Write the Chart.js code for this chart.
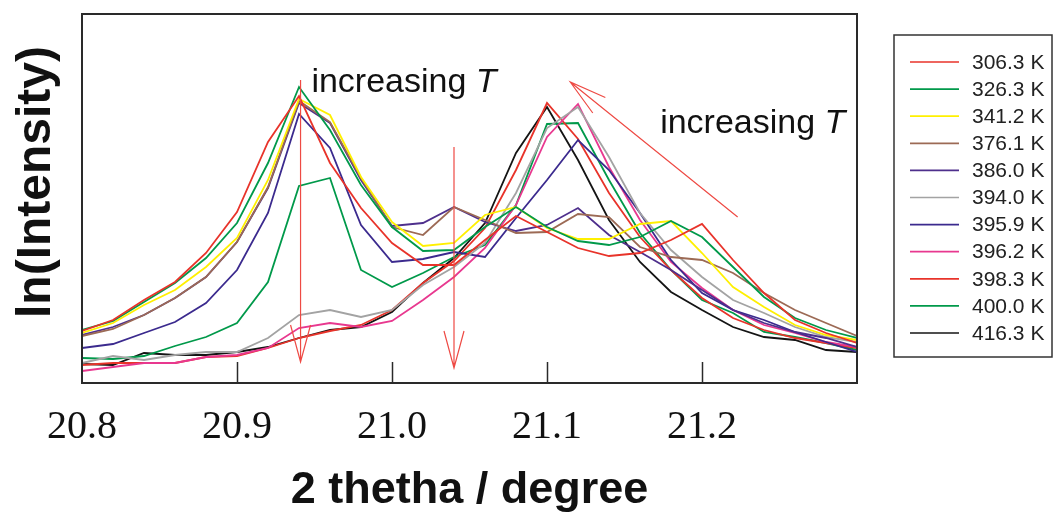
<!DOCTYPE html>
<html>
<head>
<meta charset="utf-8">
<script src="https://cdn.jsdelivr.net/npm/chart.js@4"></script>
<style>
  html, body { margin: 0; padding: 0; background: #fff; }
  #wrap { width: 1055px; height: 516px; }
</style>
</head>
<body>
<div id="wrap"><canvas id="chart"></canvas></div>
<script>
// 2 theta positions (degree)
const ANGLES = [20.80, 20.82, 20.84, 20.86, 20.88, 20.90, 20.92, 20.94, 20.96, 20.98,
  21.00, 21.02, 21.04, 21.06, 21.08, 21.10, 21.12, 21.14, 21.16, 21.18,
  21.20, 21.22, 21.24, 21.26, 21.28, 21.30];

const X_TICKS = [20.8, 20.9, 21.0, 21.1, 21.2];

// ln(Intensity), arbitrary units
const T306 = [6.52, 6.63, 6.83, 7.01, 7.30, 7.71, 8.41, 8.87, 8.20, 7.75, 7.40, 7.18, 7.18, 7.43, 7.67, 7.51, 7.35, 7.27, 7.30, 7.43, 7.59, 7.23, 6.90, 6.63, 6.50, 6.40];
const T326 = [6.53, 6.62, 6.81, 7.00, 7.25, 7.60, 8.20, 8.96, 8.53, 7.98, 7.56, 7.32, 7.33, 7.56, 7.76, 7.56, 7.42, 7.38, 7.46, 7.62, 7.46, 7.16, 6.86, 6.65, 6.53, 6.45];
const T341 = [6.50, 6.60, 6.78, 6.93, 7.16, 7.45, 8.03, 8.84, 8.68, 8.06, 7.61, 7.37, 7.40, 7.68, 7.76, 7.55, 7.44, 7.44, 7.59, 7.62, 7.30, 6.96, 6.76, 6.58, 6.48, 6.43];
const T376 = [6.47, 6.54, 6.68, 6.85, 7.06, 7.41, 7.96, 8.82, 8.61, 8.05, 7.56, 7.48, 7.76, 7.63, 7.50, 7.51, 7.69, 7.66, 7.36, 7.26, 7.23, 7.10, 6.90, 6.73, 6.60, 6.47];
const T386 = [6.48, 6.56, 6.68, 6.85, 7.06, 7.41, 7.95, 8.80, 8.60, 8.03, 7.57, 7.60, 7.76, 7.61, 7.52, 7.58, 7.75, 7.48, 7.31, 7.13, 6.93, 6.73, 6.60, 6.51, 6.45, 6.36];
const T394 = [6.20, 6.27, 6.23, 6.28, 6.31, 6.31, 6.45, 6.68, 6.73, 6.66, 6.73, 6.98, 7.16, 7.40, 7.90, 8.55, 8.76, 8.26, 7.70, 7.33, 7.06, 6.83, 6.70, 6.56, 6.46, 6.41];
const T3959 = [6.35, 6.39, 6.50, 6.61, 6.80, 7.13, 7.70, 8.69, 8.35, 7.58, 7.21, 7.24, 7.31, 7.26, 7.65, 8.03, 8.43, 8.13, 7.70, 7.23, 6.90, 6.73, 6.63, 6.51, 6.41, 6.31];
const T3962 = [6.12, 6.16, 6.20, 6.20, 6.26, 6.28, 6.35, 6.55, 6.60, 6.56, 6.62, 6.83, 7.06, 7.35, 7.78, 8.46, 8.79, 8.16, 7.63, 7.21, 6.95, 6.73, 6.58, 6.50, 6.41, 6.36];
const T398 = [6.18, 6.20, 6.20, 6.20, 6.26, 6.27, 6.35, 6.45, 6.52, 6.58, 6.73, 7.00, 7.22, 7.55, 8.13, 8.80, 8.44, 7.90, 7.46, 7.13, 6.85, 6.65, 6.53, 6.45, 6.40, 6.35];
const T400 = [6.25, 6.24, 6.27, 6.37, 6.46, 6.60, 7.01, 7.97, 8.05, 7.13, 6.96, 7.10, 7.26, 7.38, 7.78, 8.59, 8.60, 8.03, 7.50, 7.13, 6.83, 6.70, 6.51, 6.46, 6.40, 6.33];
const T416 = [6.19, 6.18, 6.30, 6.28, 6.28, 6.31, 6.36, 6.45, 6.53, 6.56, 6.71, 7.00, 7.25, 7.60, 8.30, 8.76, 8.23, 7.63, 7.21, 6.91, 6.73, 6.56, 6.46, 6.43, 6.33, 6.31];

const LABELS = ['306.3 K', '326.3 K', '341.2 K', '376.1 K', '386.0 K', '394.0 K',
  '395.9 K', '396.2 K', '398.3 K', '400.0 K', '416.3 K'];
const SERIES = [T306, T326, T341, T376, T386, T394, T3959, T3962, T398, T400, T416];
const COLORS = ['#e8332a', '#00994a', '#fff000', '#9c6a55', '#4e2f8c', '#a3a3a3',
  '#3b2a8e', '#e8388f', '#e8332a', '#00994a', '#141414'];

// arrows and notes, in data coordinates
const ARROWS = [
  { from: [20.941, 9.03], to: [20.941, 6.21] },
  { from: [21.040, 8.36], to: [21.040, 6.15] },
  { from: [21.223, 7.66], to: [21.115, 9.01] },
];
const NOTES = [
  { at: [20.948, 8.91] },
  { at: [21.173, 8.50] },
];

const RED = '#ee4a44';

const annotations = {
  id: 'annotations',
  afterDatasetsDraw(chart) {
    const { ctx, scales: { x, y } } = chart;
    ctx.save();
    ctx.strokeStyle = RED;
    ctx.lineWidth = 1.2;
    ARROWS.forEach((a) => {
      const x0 = x.getPixelForValue(a.from[0]);
      const y0 = y.getPixelForValue(a.from[1]);
      const x1 = x.getPixelForValue(a.to[0]);
      const y1 = y.getPixelForValue(a.to[1]);
      const ang = Math.atan2(y1 - y0, x1 - x0);
      const len = 37, half = 10;
      const bx = x1 - len * Math.cos(ang), by = y1 - len * Math.sin(ang);
      const nx = -Math.sin(ang) * half, ny = Math.cos(ang) * half;
      ctx.beginPath();
      ctx.moveTo(x0, y0);
      ctx.lineTo(x1, y1);
      ctx.moveTo(bx + nx, by + ny);
      ctx.lineTo(x1, y1);
      ctx.lineTo(bx - nx, by - ny);
      ctx.stroke();
    });

    ctx.fillStyle = '#111';
    ctx.textBaseline = 'alphabetic';
    ctx.textAlign = 'left';
    NOTES.forEach((n) => {
      const px = x.getPixelForValue(n.at[0]);
      const py = y.getPixelForValue(n.at[1]);
      ctx.font = '34px "Liberation Sans", Arial, sans-serif';
      const word = 'increasing ';
      ctx.fillText(word, px, py);
      const w = ctx.measureText(word).width;
      ctx.font = 'italic 34px "Liberation Sans", Arial, sans-serif';
      ctx.fillText('T', px + w, py);
    });
    ctx.restore();
  },
};

const frame = {
  id: 'frame',
  afterDraw(chart) {
    const { ctx, chartArea: a, scales: { x } } = chart;
    ctx.save();
    ctx.strokeStyle = '#2a2a2a';
    ctx.lineWidth = 1.5;
    X_TICKS.slice(1).forEach((v) => {
      const px = Math.round(x.getPixelForValue(v)) + 0.5;
      ctx.beginPath();
      ctx.moveTo(px, a.bottom);
      ctx.lineTo(px, a.bottom - 21);
      ctx.stroke();
    });
    ctx.lineWidth = 2;
    ctx.strokeRect(a.left, a.top, a.right - a.left, a.bottom - a.top);

    // y axis title
    ctx.fillStyle = '#111';
    ctx.font = 'bold 48px "Liberation Sans", Arial, sans-serif';
    ctx.textAlign = 'center';
    ctx.textBaseline = 'alphabetic';
    ctx.translate(50, 182);
    ctx.rotate(-Math.PI / 2);
    ctx.fillText('ln(Intensity)', 0, 0);
    ctx.restore();
  },
};

const boxLegend = {
  id: 'boxLegend',
  afterDraw(chart) {
    const { ctx } = chart;
    ctx.save();
    ctx.strokeStyle = '#333';
    ctx.lineWidth = 1.5;
    ctx.strokeRect(894, 35, 158, 322);
    ctx.font = '21px "Liberation Sans", Arial, sans-serif';
    ctx.textBaseline = 'middle';
    ctx.textAlign = 'left';
    chart.data.datasets.forEach((ds, i) => {
      const yy = 62 + i * 27.1;
      ctx.strokeStyle = ds.borderColor;
      ctx.lineWidth = 1.7;
      ctx.beginPath();
      ctx.moveTo(910, yy);
      ctx.lineTo(959, yy);
      ctx.stroke();
      ctx.fillStyle = '#222';
      ctx.fillText(ds.label, 972, yy + 1);
    });
    ctx.restore();
  },
};

new Chart(document.getElementById('chart'), {
  type: 'line',
  data: {
    datasets: SERIES.map((vals, k) => ({
      label: LABELS[k],
      data: ANGLES.map((a, i) => ({ x: a, y: vals[i] })),
      borderColor: COLORS[k],
      backgroundColor: COLORS[k],
      borderWidth: 1.8,
      pointRadius: 0,
      tension: 0,
      fill: false,
    })),
  },
  options: {
    responsive: true,
    maintainAspectRatio: false,
    animation: false,
    layout: { padding: { top: 14, right: 198, left: 0, bottom: 0 } },
    plugins: { legend: { display: false }, tooltip: { enabled: false } },
    scales: {
      x: {
        type: 'linear',
        min: 20.8,
        max: 21.3,
        grid: { display: false, drawTicks: false },
        border: { display: false },
        afterBuildTicks: (s) => { s.ticks = X_TICKS.map((v) => ({ value: v })); },
        ticks: {
          padding: 20,
          color: '#111',
          autoSkip: false,
          maxRotation: 0,
          font: { family: '"Liberation Serif", "Times New Roman", serif', size: 40 },
          callback: (v) => Number(v).toFixed(1),
        },
        title: {
          display: true,
          text: '2 thetha / degree',
          color: '#111',
          font: { family: '"Liberation Sans", Arial, sans-serif', size: 45, weight: 'bold', lineHeight: 1 },
          padding: { top: 0, bottom: 3 },
        },
        afterFit: (s) => { s.height = 133; },
      },
      y: {
        min: 6,
        max: 9.69,
        ticks: { display: false },
        grid: { display: false, drawTicks: false },
        border: { display: false },
        afterFit: (s) => { s.width = 82; },
      },
    },
  },
  plugins: [annotations, frame, boxLegend],
});
</script>
</body>
</html>
